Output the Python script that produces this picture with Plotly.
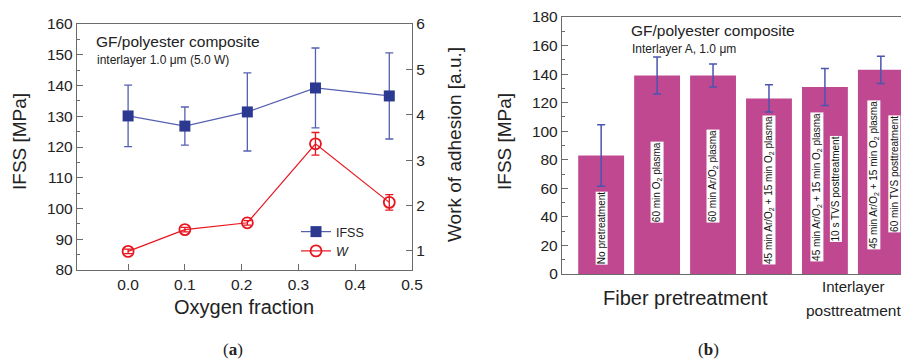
import plotly.graph_objects as go

# ---- panel (a): IFSS and work of adhesion vs. oxygen fraction ----
oxygen_fraction = [0.0, 0.1, 0.21, 0.33, 0.46]
ifss_a = [130.1, 126.8, 131.4, 139.2, 136.6]
ifss_a_err = [10.0, 6.2, 12.7, 13.0, 14.0]
work_adhesion = [0.99, 1.47, 1.62, 3.36, 2.07]
work_adhesion_err = [0.05, 0.05, 0.05, 0.25, 0.17]

# ---- panel (b): IFSS for different treatments ----
treatments = [
    ["No pretreatment"],
    ["60 min O<sub>2</sub> plasma"],
    ["60 min Ar/O<sub>2</sub> plasma"],
    ["45 min Ar/O<sub>2</sub> + 15 min O<sub>2</sub> plasma"],
    ["45 min Ar/O<sub>2</sub> + 15 min O<sub>2</sub> plasma", "10 s TVS posttreatment"],
    ["45 min Ar/O<sub>2</sub> + 15 min O<sub>2</sub> plasma", "60 min TVS posttreatment"],
]
ifss_b = [83, 139, 139, 123, 131, 143]
ifss_b_err = [21.5, 13, 8, 9.5, 13, 9.5]

W, H = 901, 360
FONT = "Liberation Sans, Arial, sans-serif"
AXIS_COL = "#6b6b6b"
NAVY = "#2b3990"
NAVY_LINE = "#5560b0"
RED = "#e8141e"
BAR = "#bf4891"
ERR_B = "#4a55b0"


def px(x):
    return x / W


def py(y):
    return 1 - y / H


fig = go.Figure()

fig.add_trace(go.Scatter(
    x=oxygen_fraction, y=ifss_a, name="IFSS", mode="lines+markers",
    line=dict(color=NAVY_LINE, width=1.2),
    marker=dict(symbol="square", size=11, color=NAVY),
    error_y=dict(type="data", array=ifss_a_err, color=NAVY_LINE, thickness=1.3, width=4),
    xaxis="x", yaxis="y",
))
fig.add_trace(go.Scatter(
    x=oxygen_fraction, y=work_adhesion, name="<i>W</i>", mode="lines+markers",
    line=dict(color=RED, width=1.2),
    marker=dict(symbol="circle-open", size=11, color=RED, line=dict(width=1.8, color=RED)),
    error_y=dict(type="data", array=work_adhesion_err, color=RED, thickness=1.3, width=4),
    xaxis="x", yaxis="y2",
))
fig.add_trace(go.Bar(
    x=list(range(len(ifss_b))), y=ifss_b, width=0.82, showlegend=False,
    marker=dict(color=BAR, line=dict(width=0)),
    error_y=dict(type="data", array=ifss_b_err, color=ERR_B, thickness=1.5, width=4),
    xaxis="x2", yaxis="y3",
))

tickfont = dict(family=FONT, size=15.5, color="#222")
common_axis = dict(showline=True, linecolor=AXIS_COL, linewidth=1.3, showgrid=False,
                   zeroline=False, tickfont=tickfont, ticks="inside", ticklen=6,
                   tickcolor=AXIS_COL)

fig.update_layout(
    width=W, height=H, margin=dict(l=0, r=0, t=0, b=0, pad=0, autoexpand=False),
    paper_bgcolor="white", plot_bgcolor="white",
    font=dict(family=FONT, color="#222"),
    xaxis=dict(domain=[px(77), px(412)], range=[-0.09, 0.5], tickvals=[0, 0.1, 0.2, 0.3, 0.4, 0.5],
               tickformat=".1f", mirror=True, anchor="y", **common_axis),
    yaxis=dict(domain=[py(270), py(24)], range=[80, 160], dtick=10, anchor="x",
               minor=dict(dtick=5, ticks="inside", ticklen=3, tickcolor=AXIS_COL), **common_axis),
    yaxis2=dict(overlaying="y", side="right", range=[0.58, 6], dtick=1, anchor="x", **common_axis),
    xaxis2=dict(domain=[px(562), 1.0], range=[-0.70, 5.36], showticklabels=False, mirror=True,
                anchor="y3", showline=True, linecolor=AXIS_COL, linewidth=1.3, showgrid=False,
                zeroline=False, ticks=""),
    yaxis3=dict(domain=[py(274), py(17)], range=[0, 180], dtick=20, anchor="x2",
                minor=dict(dtick=10, ticks="inside", ticklen=3, tickcolor=AXIS_COL), **common_axis),
    legend=dict(x=px(296), y=py(217), xanchor="left", yanchor="top", bgcolor="rgba(0,0,0,0)",
                font=dict(family=FONT, size=12.5, color="#222"), itemwidth=30, tracegroupgap=0),
)

ann = []


def text(x, y, s, size, **kw):
    ann.append(dict(x=px(x), y=py(y), xref="paper", yref="paper", text=s, showarrow=False,
                    xanchor=kw.pop("xanchor", "center"), yanchor="middle",
                    font=dict(family=kw.pop("family", FONT), size=size, color=kw.pop("color", "#222")),
                    **kw))


# panel (a) labels
text(94, 41, "GF/polyester composite", 15.5, xanchor="left")
text(95, 60, "interlayer 1.0 \u03bcm (5.0 W)", 12, xanchor="left")
text(20, 142, "IFSS [MPa]", 19, textangle=-90)
text(454, 145, "Work of adhesion [a.u.]", 19, textangle=-90)
text(244, 307, "Oxygen fraction", 20)
text(233, 349, "(<b>a</b>)", 17, family="Liberation Serif, Times New Roman, serif")

# panel (b) labels
text(629, 30, "GF/polyester composite", 15.5, xanchor="left")
text(630, 49, "Interlayer A, 1.0 \u03bcm", 12, xanchor="left")
text(505, 142, "IFSS [MPa]", 19, textangle=-90)
text(685, 298, "Fiber pretreatment", 20)
text(853, 286, "Interlayer", 15)
text(853, 310, "posttreatment", 15.5)
text(708, 349, "(<b>b</b>)", 17, family="Liberation Serif, Times New Roman, serif")

# rotated treatment labels inside the bars (one box per text line)
label_base = [[6.3], [35.7], [35.7], [6.3], [8.4, 22.4], [16.8, 28.7]]
label_shift = [[0], [0], [0], [0], [-8, 11], [-7, 13]]
for i, lines in enumerate(treatments):
    for j, line in enumerate(lines):
        ann.append(dict(x=i, y=label_base[i][j], xref="x2", yref="y3", text=line,
                        showarrow=False, textangle=-90, yanchor="bottom", xanchor="center",
                        xshift=label_shift[i][j], bgcolor="white", borderpad=0,
                        font=dict(family=FONT, size=10, color="#111")))

fig.update_layout(annotations=ann)
fig.write_html("out.html")
